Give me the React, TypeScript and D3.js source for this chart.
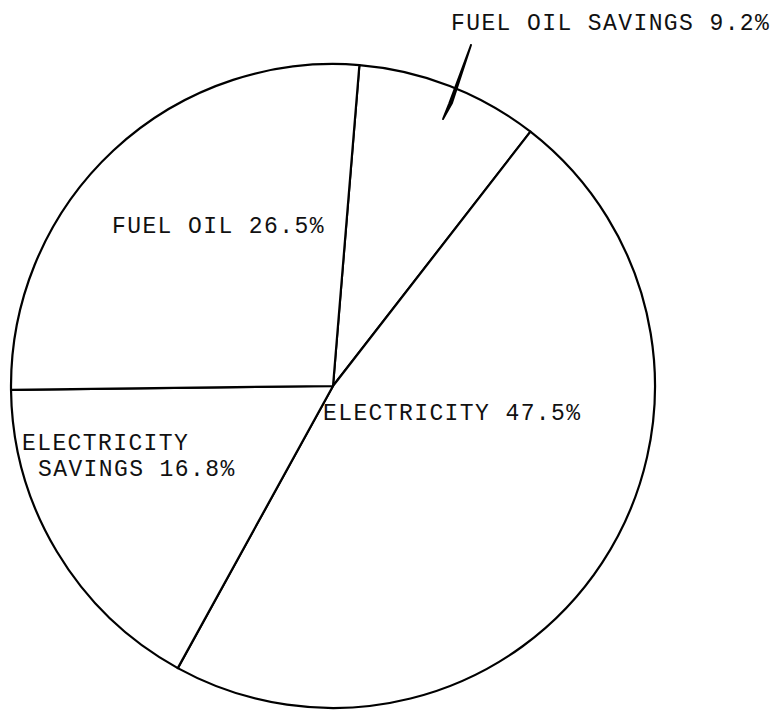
import React, { useRef, useEffect } from 'react';
import * as d3 from 'd3';

// slices, clockwise from the top line
const categories = ['FUEL OIL SAVINGS', 'ELECTRICITY', 'ELECTRICITY SAVINGS', 'FUEL OIL'];
const shares = [9.2, 47.5, 16.8, 26.5];

const width = 777;
const height = 712;
const cx = 333;
const cy = 386;
const radius = 322;
const startDeg = 4.7;

// label placement (lines of text for each slice)
const labelLayout = [
  { lines: [{ text: 'FUEL OIL SAVINGS 9.2%', x: 451, y: 30 }] },
  { lines: [{ text: 'ELECTRICITY 47.5%', x: 323, y: 420 }] },
  {
    lines: [
      { text: 'ELECTRICITY', x: 22, y: 450 },
      { text: 'SAVINGS 16.8%', x: 38, y: 476 },
    ],
  },
  { lines: [{ text: 'FUEL OIL 26.5%', x: 112, y: 233 }] },
];

const App = () => {
  const svgRef = useRef<SVGSVGElement>(null);

  useEffect(() => {
    const svg = d3.select(svgRef.current);
    svg.selectAll('*').remove();

    const data = categories.map((c, i) => ({ name: c, value: shares[i] }));
    const start = (startDeg * Math.PI) / 180;

    const pie = d3
      .pie<{ name: string; value: number }>()
      .sort(null)
      .value((d) => d.value)
      .startAngle(start)
      .endAngle(start + 2 * Math.PI);

    const arc = d3
      .arc<d3.PieArcDatum<{ name: string; value: number }>>()
      .innerRadius(0)
      .outerRadius(radius);

    const g = svg.append('g').attr('transform', `translate(${cx},${cy})`);

    g.selectAll('path')
      .data(pie(data))
      .enter()
      .append('path')
      .attr('d', arc)
      .attr('fill', 'white')
      .attr('stroke', 'black')
      .attr('stroke-width', 2.2)
      .attr('stroke-linejoin', 'round');

    // pointer for the small slice
    svg
      .append('path')
      .attr('d', 'M471,45 L449,104 L443,119 L452,103 Z')
      .attr('fill', 'black')
      .attr('stroke', 'black')
      .attr('stroke-width', 2)
      .attr('stroke-linejoin', 'round');

    labelLayout.forEach((l) => {
      l.lines.forEach((ln) => {
        svg
          .append('text')
          .attr('x', ln.x)
          .attr('y', ln.y)
          .attr('font-family', '"Liberation Mono", "Courier New", monospace')
          .attr('font-size', 23)
          .attr('letter-spacing', 1.4)
          .attr('fill', '#111')
          .text(ln.text);
      });
    });
  }, []);

  return (
    <svg
      ref={svgRef}
      width={width}
      height={height}
      style={{ position: 'absolute', left: 0, top: 0, background: 'white' }}
    />
  );
};

export default App;
